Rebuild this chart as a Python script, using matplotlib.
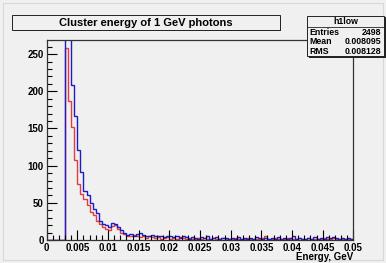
import numpy as np
import matplotlib
matplotlib.use("Agg")
import matplotlib.pyplot as plt
from matplotlib.patches import Rectangle
from matplotlib.ticker import MultipleLocator

plt.rcParams["font.family"] = ["Liberation Sans", "DejaVu Sans"]

BG = "#f0f0f0"
BLUE = "#1c1cc8"
RED = "#e23c3c"

# histogram binning: 100 bins over 0..0.05 GeV
bin_edges = np.linspace(0.0, 0.05, 101)

blue_counts = [
    0, 0, 0, 0, 0, 0, 420, 330, 208, 167,
    121, 92, 66, 61, 50, 42, 36, 26, 22, 20,
    18, 23, 22, 18, 13, 10, 7, 8, 6, 8,
    9, 7, 6, 5, 7, 6, 5, 6, 4, 5,
    6, 4, 5, 3, 5, 4, 2, 4, 3, 2,
    4, 3, 5, 2, 3, 4, 2, 3, 3, 2,
    3, 2, 4, 2, 3, 2, 3, 2, 4, 3,
    2, 3, 2, 3, 2, 4, 2, 3, 2, 3,
    5, 2, 3, 2, 2, 3, 2, 4, 2, 3,
    2, 4, 3, 4, 3, 2, 3, 2, 3, 2,
]
red_counts = [
    0, 0, 0, 0, 0, 0, 258, 187, 152, 108,
    75, 62, 55, 47, 37, 33, 26, 22, 17, 15,
    14, 19, 20, 15, 10, 8, 6, 5, 7, 5,
    4, 6, 3, 5, 4, 3, 4, 2, 3, 4,
    2, 3, 2, 4, 3, 2, 3, 2, 2, 3,
    2, 3, 1, 2, 3, 2, 2, 3, 1, 2,
    2, 3, 2, 1, 2, 3, 2, 2, 1, 2,
    3, 5, 2, 2, 3, 1, 2, 2, 3, 2,
    2, 1, 3, 2, 2, 3, 2, 1, 2, 2,
    3, 2, 2, 3, 2, 1, 2, 2, 2, 1,
]

title = "Cluster energy of 1 GeV photons"
stats_name = "h1low"
stats_rows = [("Entries", "2498"), ("Mean", "0.008095"), ("RMS", "0.008128")]

W, H = 386, 263
fig = plt.figure(figsize=(W / 100, H / 100), dpi=100, facecolor=BG)

# pad border
fig.patches.append(Rectangle((3 / W, 3 / H), 380 / W, 257 / H, transform=fig.transFigure,
                             facecolor="none", edgecolor="#d8d8d8", lw=0.8, zorder=-1))

ax = fig.add_axes([46.7 / W, 1 - 240 / H, 306.6 / W, 200 / H])
ax.set_facecolor(BG)
ax.stairs(red_counts, bin_edges, color=RED, lw=1.0, baseline=0)
ax.stairs(blue_counts, bin_edges, color=BLUE, lw=1.0, baseline=0)

ax.set_xlim(0, 0.05)
ax.set_ylim(0, 269)
ax.xaxis.set_major_locator(MultipleLocator(0.005))
ax.xaxis.set_minor_locator(MultipleLocator(0.001))
ax.yaxis.set_major_locator(MultipleLocator(50))
ax.yaxis.set_minor_locator(MultipleLocator(10))
ax.tick_params(which="both", direction="in", top=False, right=False, colors="black",
               labelsize=7)
ax.tick_params(which="major", length=7, width=0.8)
ax.tick_params(which="minor", length=3.5, width=0.8)
ax.tick_params(axis="x", pad=2)
ax.tick_params(axis="y", pad=2)
ax.set_xticklabels([f"{v:g}" for v in ax.get_xticks()], fontweight="bold")
ax.set_yticklabels([f"{v:g}" for v in ax.get_yticks()], fontweight="bold")
for sp in ax.spines.values():
    sp.set_color("#333333")
    sp.set_linewidth(0.9)

fig.text(353 / W, 1 - 257 / H, "Energy, GeV", ha="right", va="center",
         fontsize=7, fontweight="bold")

# title box with shadow
fig.patches.append(Rectangle((14 / W, 1 - 31 / H), 267 / W, 15 / H, transform=fig.transFigure,
                             facecolor="#222222", edgecolor="none", zorder=3))
fig.patches.append(Rectangle((12.5 / W, 1 - 29.5 / H), 267 / W, 14 / H, transform=fig.transFigure,
                             facecolor=BG, edgecolor="#222222", lw=0.7, zorder=4))
fig.text(146 / W, 1 - 22.5 / H, title, ha="center", va="center",
         fontsize=8, fontweight="bold", zorder=5)

# stats box
fig.patches.append(Rectangle((308.5 / W, 1 - 57.5 / H), 77 / W, 41 / H, transform=fig.transFigure,
                             facecolor="#222222", edgecolor="none", zorder=3))
fig.patches.append(Rectangle((307 / W, 1 - 56 / H), 77 / W, 40 / H, transform=fig.transFigure,
                             facecolor=BG, edgecolor="#222222", lw=0.7, zorder=4))
fig.lines.append(plt.Line2D([307 / W, 384 / W], [1 - 27 / H, 1 - 27 / H],
                            transform=fig.transFigure, color="#222222", lw=0.6, zorder=5))
fig.text(345.5 / W, 1 - 21.3 / H, stats_name, ha="center", va="center",
         fontsize=6.3, fontweight="bold", zorder=5)
for k, (lab, val) in enumerate(stats_rows):
    yy = 1 - (32.5 + k * 9.5) / H
    fig.text(309.5 / W, yy, lab, ha="left", va="center", fontsize=6.3,
             fontweight="bold", zorder=5)
    fig.text(381.5 / W, yy, val, ha="right", va="center", fontsize=6.3,
             fontweight="bold", zorder=5)

fig.savefig("out.png", dpi=100, facecolor=BG)
